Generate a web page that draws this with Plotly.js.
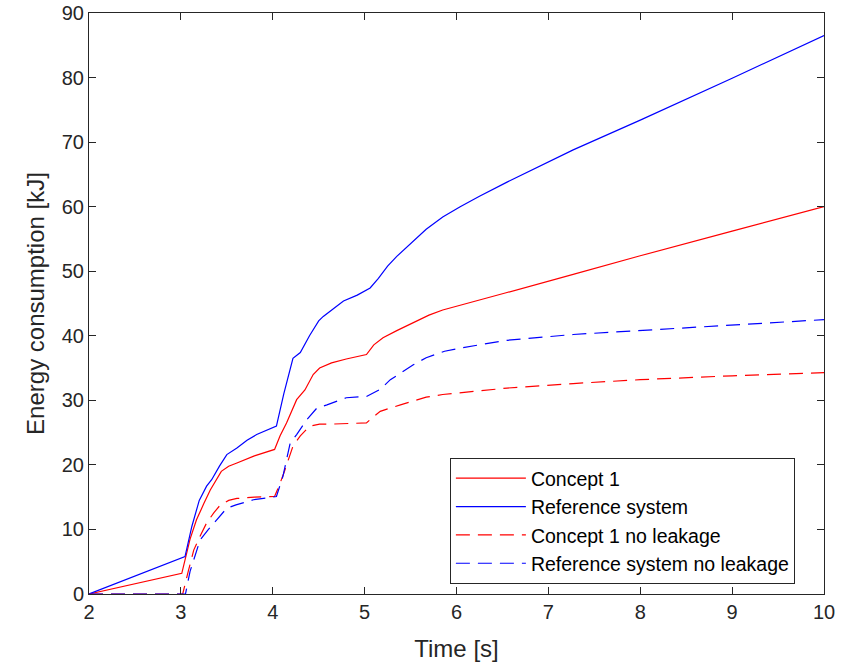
<!DOCTYPE html>
<html>
<head>
<meta charset="utf-8">
<script src="https://cdn.plot.ly/plotly-3.0.1.min.js"></script>
<style>html,body{margin:0;padding:0;background:#fff;}#chart{width:849px;height:668px;}</style>
</head>
<body>
<div id="chart"></div>
<script>
const seriesNames = ["Concept 1", "Reference system", "Concept 1 no leakage", "Reference system no leakage"];

const concept1T = [2, 3.01, 3.10, 3.17, 3.25, 3.32, 3.44, 3.52, 3.61, 3.80, 4.02, 4.08, 4.15, 4.26, 4.35, 4.44, 4.51, 4.64, 4.80, 5.02, 5.10, 5.20, 5.35, 5.53, 5.70, 5.85, 6.04, 6.30, 6.55, 7.27, 8.0, 9.0, 10];
const concept1E = [0, 3.2, 8.5, 11.5, 14.0, 16.1, 19.0, 19.8, 20.3, 21.4, 22.4, 24.5, 26.5, 30.1, 31.6, 34.0, 35.0, 35.8, 36.4, 37.1, 38.6, 39.7, 40.8, 42.0, 43.2, 44.0, 44.7, 45.7, 46.7, 49.5, 52.4, 56.2, 60.0];

const refT = [2, 3.045, 3.12, 3.20, 3.28, 3.335, 3.42, 3.50, 3.61, 3.72, 3.825, 3.93, 4.04, 4.12, 4.22, 4.30, 4.40, 4.50, 4.55, 4.66, 4.77, 4.92, 5.06, 5.15, 5.25, 5.35, 5.50, 5.67, 5.85, 6.04, 6.25, 6.55, 7.27, 8.0, 9.0, 10];
const refE = [0, 5.8, 10.5, 14.5, 16.7, 17.7, 19.8, 21.6, 22.6, 23.8, 24.7, 25.3, 26.0, 31.0, 36.5, 37.4, 40.0, 42.3, 43.0, 44.2, 45.4, 46.3, 47.4, 48.9, 50.8, 52.3, 54.3, 56.5, 58.4, 60.0, 61.6, 63.8, 68.8, 73.4, 79.9, 86.5];

const concept1NlT = [2, 3.02, 3.08, 3.14, 3.21, 3.28, 3.36, 3.43, 3.52, 3.61, 3.80, 4.02, 4.07, 4.12, 4.22, 4.30, 4.40, 4.51, 4.59, 4.80, 5.02, 5.10, 5.17, 5.39, 5.67, 5.85, 6.04, 6.55, 7.27, 8.0, 9.0, 10];
const concept1NlE = [0, 0, 3.5, 6.8, 9.0, 11.0, 12.6, 13.8, 14.5, 14.8, 15.0, 15.1, 16.8, 18.7, 22.9, 24.5, 26.0, 26.3, 26.3, 26.4, 26.5, 27.5, 28.3, 29.3, 30.5, 30.9, 31.2, 31.9, 32.6, 33.2, 33.8, 34.3];

const refNlT = [2, 3.05, 3.10, 3.21, 3.30, 3.39, 3.50, 3.60, 3.79, 3.95, 4.04, 4.11, 4.19, 4.26, 4.37, 4.48, 4.59, 4.80, 5.02, 5.17, 5.28, 5.39, 5.53, 5.67, 5.87, 6.04, 6.55, 7.27, 8.0, 9.0, 10];
const refNlE = [0, 0, 3.5, 8.4, 10.0, 11.5, 13.3, 13.8, 14.6, 14.9, 15.1, 18.2, 23.4, 24.7, 27.0, 28.8, 29.3, 30.4, 30.6, 31.7, 33.2, 34.2, 35.5, 36.6, 37.6, 38.1, 39.3, 40.2, 40.8, 41.7, 42.5];

const xTicks = [2, 3, 4, 5, 6, 7, 8, 9, 10];
const yTicks = [0, 10, 20, 30, 40, 50, 60, 70, 80, 90];

const RED = "#ff0000", BLUE = "#0000ff";
const DASH = "14px,8px";

const traces = [
  {x: concept1T, y: concept1E, name: seriesNames[0], mode: "lines", line: {color: RED, width: 1.2}},
  {x: refT, y: refE, name: seriesNames[1], mode: "lines", line: {color: BLUE, width: 1.2}},
  {x: concept1NlT, y: concept1NlE, name: seriesNames[2], mode: "lines", line: {color: RED, width: 1.2, dash: DASH}},
  {x: refNlT, y: refNlE, name: seriesNames[3], mode: "lines", line: {color: BLUE, width: 1.2, dash: DASH}}
];

const FONT = "Liberation Sans, Arial, sans-serif";
const axisCommon = {
  showgrid: false, zeroline: false, showline: true, mirror: "ticks",
  linecolor: "#262626", linewidth: 1, ticks: "inside", ticklen: 7, tickwidth: 1, tickcolor: "#262626",
  tickfont: {family: FONT, size: 20, color: "#262626"}
};

const layout = {
  width: 849, height: 668,
  margin: {l: 89, r: 25, t: 13, b: 74},
  paper_bgcolor: "#fff", plot_bgcolor: "#fff",
  showlegend: true,
  xaxis: Object.assign({}, axisCommon, {
    range: [2, 10], tickvals: xTicks, ticktext: xTicks.map(String),
    title: {text: "Time [s]", font: {family: FONT, size: 24, color: "#262626"}, standoff: 18}
  }),
  yaxis: Object.assign({}, axisCommon, {
    range: [0, 90], tickvals: yTicks, ticktext: yTicks.map(String),
    title: {text: "Energy consumption [kJ]", font: {family: FONT, size: 24, color: "#262626"}, standoff: 10}
  }),
  legend: {
    x: 0.491, y: 0.234, xanchor: "left", yanchor: "top",
    bgcolor: "#fff", bordercolor: "#262626", borderwidth: 1,
    font: {family: FONT, size: 19.5, color: "#000"},
    itemwidth: 70, tracegroupgap: 0
  }
};

Plotly.newPlot("chart", traces, layout, {staticPlot: true, displayModeBar: false});
</script>
</body>
</html>
